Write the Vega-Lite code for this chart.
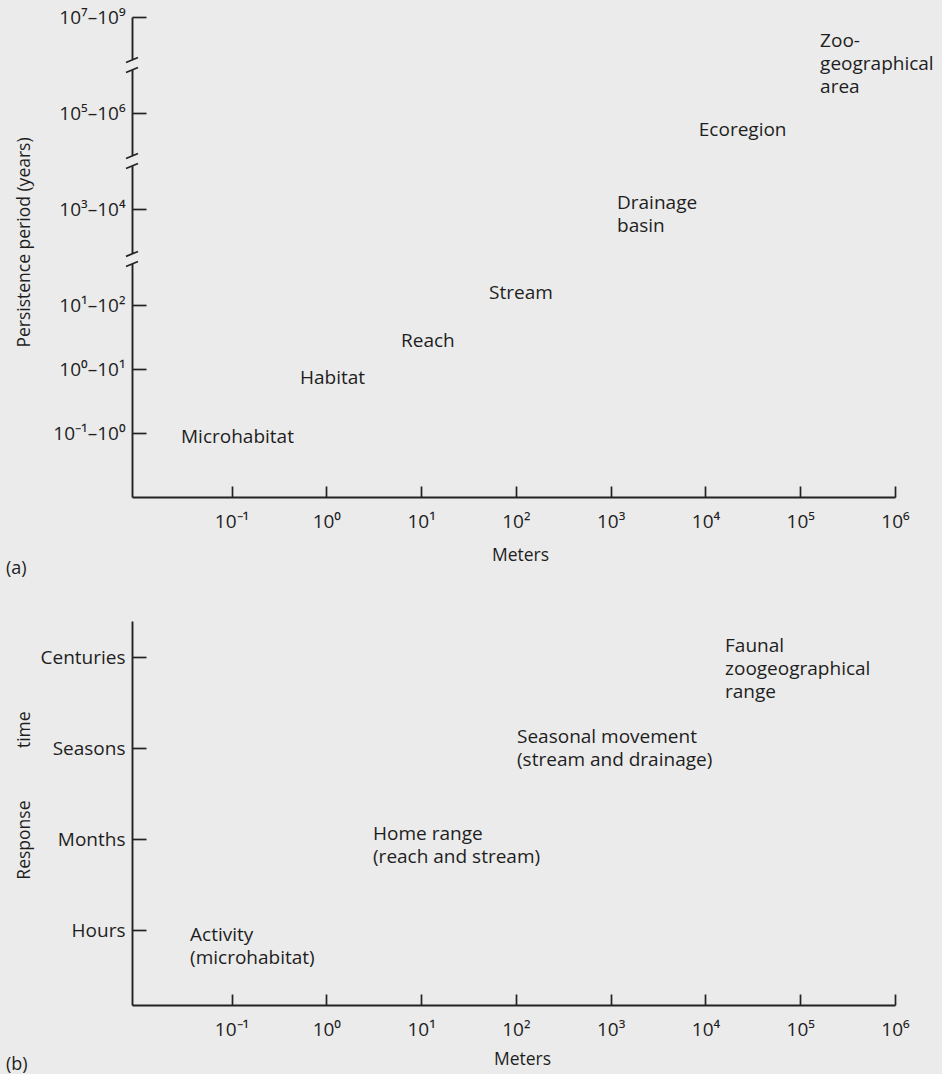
{
  "$schema": "https://vega.github.io/schema/vega-lite/v6.json",
  "background": "#ebebeb",
  "padding": {"left": 6, "top": 8, "right": 10, "bottom": 2},
  "spacing": 43,
  "config": {
    "view": {"stroke": null},
    "font": "Open Sans",
    "axis": {
      "domainColor": "#222222",
      "domainWidth": 1.9,
      "tickColor": "#222222",
      "tickWidth": 1.7,
      "grid": false,
      "labelFont": "Open Sans",
      "labelFontSize": 19,
      "labelColor": "#1e1e1e",
      "labelFlush": false,
      "labelOverlap": false,
      "titleFont": "Open Sans",
      "titleFontSize": 17.5,
      "titleFontWeight": "normal",
      "titleColor": "#1e1e1e"
    },
    "text": {"font": "Open Sans", "fontSize": 19, "color": "#1e1e1e", "lineHeight": 23},
    "title": {"font": "Open Sans", "fontSize": 18, "fontWeight": "normal", "color": "#1e1e1e"}
  },
  "vconcat": [
    {
      "width": 763,
      "height": 480,
      "title": {"text": "(a)", "orient": "bottom", "anchor": "start", "frame": "bounds", "offset": -4, "dx": -9},
      "layer": [
        {
          "data": {"values": [
            {"label": "Microhabitat", "m": 0.0293, "y": 0.94},
            {"label": "Habitat", "m": 0.528, "y": 1.86},
            {"label": "Reach", "m": 6.14, "y": 2.44},
            {"label": "Stream", "m": 52.1, "y": 3.19},
            {"label": ["Drainage", "basin"], "m": 1167, "y": 4.6},
            {"label": "Ecoregion", "m": 8511, "y": 5.73},
            {"label": ["Zoo-", "geographical", "area"], "m": 162000, "y": 7.12}
          ]},
          "mark": {"type": "text", "align": "left", "baseline": "middle"},
          "encoding": {
            "x": {
              "field": "m", "type": "quantitative",
              "scale": {"type": "log", "domain": [0.00891, 1000000], "nice": false},
              "axis": {
                "values": [0.1, 1, 10, 100, 1000, 10000, 100000, 1000000],
                "labelExpr": "datum.value < 0.5 ? '10⁻¹' : datum.value < 5 ? '10⁰' : datum.value < 50 ? '10¹' : datum.value < 500 ? '10²' : datum.value < 5000 ? '10³' : datum.value < 50000 ? '10⁴' : datum.value < 500000 ? '10⁵' : '10⁶'",
                "title": "Meters",
                "tickSize": -11,
                "labelPadding": 26,
                "titlePadding": 15,
                "titleX": 388
              }
            },
            "y": {
              "field": "y", "type": "quantitative",
              "scale": {"domain": [0, 7.5], "nice": false, "zero": false},
              "axis": {
                "values": [1, 2, 3, 4.5, 6, 7.5],
                "labelExpr": "datum.value < 1.5 ? '10⁻¹–10⁰' : datum.value < 2.5 ? '10⁰–10¹' : datum.value < 3.5 ? '10¹–10²' : datum.value < 5 ? '10³–10⁴' : datum.value < 6.5 ? '10⁵–10⁶' : '10⁷–10⁹'",
                "title": "Persistence period (years)",
                "tickSize": -14,
                "labelPadding": 21,
                "minExtent": 90,
                "maxExtent": 90,
                "titlePadding": 9,
                "titleY": 225
              }
            },
            "text": {"field": "label"}
          }
        },
        {
          "data": {"values": [{"m": 0.00891, "y": 6.75}, {"m": 0.00891, "y": 5.25}, {"m": 0.00891, "y": 3.72}]},
          "mark": {"type": "point", "shape": "M-0.45,-0.85L0.45,-0.85L0.45,0.85L-0.45,0.85Z", "filled": true, "color": "#ebebeb", "opacity": 1, "size": 144, "strokeWidth": 0},
          "encoding": {
            "x": {"field": "m", "type": "quantitative"},
            "y": {"field": "y", "type": "quantitative"}
          }
        },
        {
          "data": {"values": [{"m": 0.00891, "y": 6.75}, {"m": 0.00891, "y": 5.25}, {"m": 0.00891, "y": 3.72}]},
          "mark": {"type": "point", "shape": "M-1,-0.42L1,-1.25M-1,1.25L1,0.42", "filled": false, "color": "#222222", "opacity": 1, "size": 144, "strokeWidth": 1.7},
          "encoding": {
            "x": {"field": "m", "type": "quantitative"},
            "y": {"field": "y", "type": "quantitative"}
          }
        }
      ]
    },
    {
      "width": 763,
      "height": 384,
      "title": {"text": "(b)", "orient": "bottom", "anchor": "start", "frame": "bounds", "offset": -12, "dx": -9},
      "data": {"values": [
        {"label": ["Activity", "(microhabitat)"], "m": 0.0365, "y": 0.95},
        {"label": ["Home range", "(reach and stream)"], "m": 3.11, "y": 2.06},
        {"label": ["Seasonal movement", "(stream and drainage)"], "m": 102.8, "y": 3.128},
        {"label": ["Faunal", "zoogeographical", "range"], "m": 16100, "y": 4.12}
      ]},
      "mark": {"type": "text", "align": "left", "baseline": "middle"},
      "encoding": {
        "x": {
          "field": "m", "type": "quantitative",
          "scale": {"type": "log", "domain": [0.00891, 1000000], "nice": false},
          "axis": {
            "values": [0.1, 1, 10, 100, 1000, 10000, 100000, 1000000],
            "labelExpr": "datum.value < 0.5 ? '10⁻¹' : datum.value < 5 ? '10⁰' : datum.value < 50 ? '10¹' : datum.value < 500 ? '10²' : datum.value < 5000 ? '10³' : datum.value < 50000 ? '10⁴' : datum.value < 500000 ? '10⁵' : '10⁶'",
            "title": "Meters",
            "tickSize": -11,
            "labelPadding": 26,
            "titlePadding": 11,
            "titleX": 390
          }
        },
        "y": {
          "field": "y", "type": "quantitative",
          "scale": {"domain": [0.176, 4.4], "nice": false, "zero": false},
          "axis": {
            "values": [1, 2, 3, 4],
            "labelExpr": "datum.value < 1.5 ? 'Hours' : datum.value < 2.5 ? 'Months' : datum.value < 3.5 ? 'Seasons' : 'Centuries'",
            "title": "Response\u2003\u2003\u2003time",
            "tickSize": -14,
            "labelPadding": 21,
            "minExtent": 90,
            "maxExtent": 90,
            "titlePadding": 9,
            "titleY": 174
          }
        },
        "text": {"field": "label"}
      }
    }
  ]
}
